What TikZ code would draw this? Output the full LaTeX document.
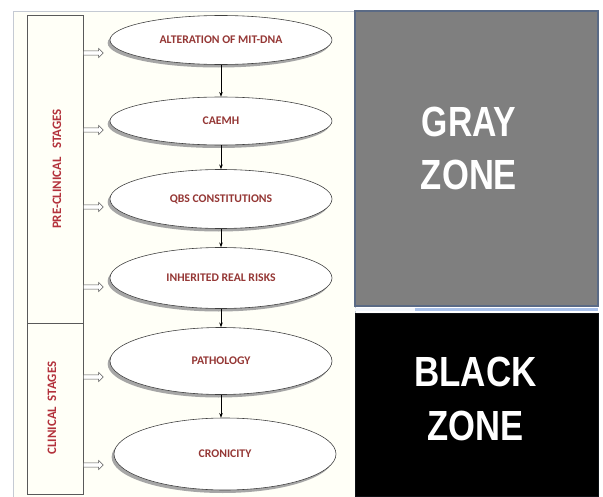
\documentclass[tikz,border=0pt]{standalone}
\usepackage{fontspec}
\setmainfont{Carlito}
\newfontfamily\zonefont{Liberation Sans}
\usetikzlibrary{shapes.geometric,shapes.arrows,shadows,arrows.meta}
\definecolor{stagered}{HTML}{B3323C}
\definecolor{boxred}{HTML}{953735}
\definecolor{zonegray}{HTML}{7F7F7F}
\definecolor{zoneedge}{HTML}{5A6A85}
\definecolor{frameedge}{HTML}{C5CAD3}
\definecolor{stripblue}{HTML}{A9C1EA}
\begin{document}
\begin{tikzpicture}[
  stagebox/.style={draw=black!65, line width=0.7pt},
  stagelabel/.style={rotate=90, text=stagered, font=\fontsize{11}{13}\selectfont\bfseries},
  phase/.style={ellipse, draw=black!75, line width=0.5pt, fill=white,
    minimum width=6.66cm, inner sep=0pt, text=boxred,
    font=\fontsize{10}{12}\selectfont\bfseries,
    drop shadow={shadow xshift=-0.07cm, shadow yshift=-0.09cm, fill=black!35, opacity=1}},
  flow/.style={-{Stealth[length=4pt,width=3pt]}, line width=0.5pt},
  feed/.style={single arrow, draw=black!65, line width=0.45pt, fill=white,
    minimum height=0.600000cm, inner sep=0.055cm, single arrow head extend=0.075cm,
    anchor=tail},
  zonetext/.style={text=white, align=center,
    font=\zonefont\bfseries\fontsize{36}{46}\selectfont}
]
  \useasboundingbox (0.000000,0.000000) rectangle (18.090000,14.880000);

  % Drawing frame of the stages panel
  \draw [draw=frameedge, line width=0.8pt, fill=white!97!yellow] (0.390000,-0.100000) rectangle (10.650000,14.550000);%

  % Drawing stage boxes
  \draw [stagebox] (0.810000,5.190000) rectangle (2.490000,14.430000);%
  \draw [stagebox] (0.810000,0.060000) rectangle (2.490000,5.190000);%
  \coordinate (pre) at (2.490000,14.430000);
  \coordinate (clin) at (2.490000,5.190000);

  % Marking stage labels
  \node [stagelabel] (prelabel) at (1.710000,9.810000) {PRE-CLINICAL\hspace{0.45em} STAGES};%
  \node [stagelabel] (clinlabel) at (1.560000,2.640000) {CLINICAL\hspace{0.2em} STAGES};%

  % Drawing ellipses
  \node [phase, minimum height=1.470000cm] (e1) at (6.630000,13.680000) {ALTERATION OF MIT-DNA};%
  \node [phase, minimum height=1.440000cm] (e2) at (6.630000,11.250000) {CAEMH};%
  \node [phase, minimum height=1.770000cm] (e3) at (6.630000,8.910000) {QBS CONSTITUTIONS};%
  \node [phase, minimum height=1.830000cm] (e4) at (6.630000,6.540000) {INHERITED REAL RISKS};%
  \node [phase, minimum height=2.010000cm] (e5) at (6.630000,4.050000) {PATHOLOGY};%
  \node [phase, minimum height=2.160000cm] (e6) at (6.750000,1.260000) {CRONICITY};%

  % Drawing segments between ellipses
  \draw [flow] (e1.south) -- (e2.north);%
  \draw [flow] (e2.south) -- (e3.north);%
  \draw [flow] (e3.south) -- (e4.north);%
  \draw [flow] (e4.south) -- (e5.north);%
  \draw [flow] (e5.south) -- (e5.south |- e6.north);%

  % Drawing arrows from the stage boxes
  \node [feed] (f1) at (pre |- 0,13.290000) {};%
  \node [feed] (f2) at (pre |- 0,10.980000) {};%
  \node [feed] (f3) at (pre |- 0,8.670000) {};%
  \node [feed] (f4) at (pre |- 0,6.270000) {};%
  \node [feed] (f5) at (clin |- 0,3.570000) {};%
  \node [feed] (f6) at (clin |- 0,0.930000) {};%

  % Drawing gray zone
  \draw [draw=zoneedge, line width=1.2pt, fill=zonegray] (10.650000,5.700000) rectangle (17.940000,14.550000);%
  \node [zonetext] (gray) at (14.070000,10.425000) {\scalebox{0.8}[1]{GRAY}\\\scalebox{0.82}[1]{ZONE}};%

  % Drawing strip between zones
  \fill [stripblue] (10.650000,5.540000) rectangle (17.940000,5.650000);%
  \fill [white!85!stripblue] (10.650000,5.540000) rectangle (12.450000,5.650000);%

  % Drawing black zone
  \draw [draw=black!85!zoneedge, line width=0.8pt, fill=black] (10.650000,0.000000) rectangle (17.940000,5.490000);%
  \node [zonetext] (black) at (14.265000,2.910000) {\scalebox{0.83}[1]{BLACK}\\\scalebox{0.82}[1]{ZONE}};%
\end{tikzpicture}
\end{document}
